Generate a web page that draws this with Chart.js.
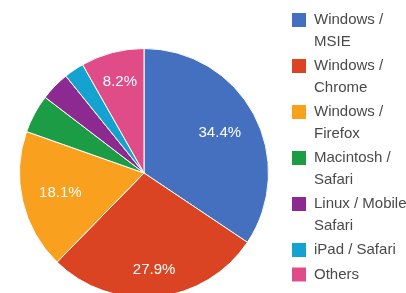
<!DOCTYPE html>
<html>
<head>
<meta charset="utf-8">
<script src="https://cdn.jsdelivr.net/npm/chart.js@4"></script>
<style>
  html, body { margin: 0; padding: 0; background: #fff; overflow: hidden; }
  #wrap { width: 406px; height: 322px; }
</style>
</head>
<body>
<div id="wrap"><canvas id="pie"></canvas></div>
<script>
// Data
const categories = [
  ['Windows /', 'MSIE'],
  ['Windows /', 'Chrome'],
  ['Windows /', 'Firefox'],
  ['Macintosh /', 'Safari'],
  ['Linux / Mobile', 'Safari'],
  ['iPad / Safari'],
  ['Others']
];
const shares = [34.4, 27.9, 18.1, 5.0, 3.8, 2.6, 8.2];
const shownLabels = ['34.4%', '27.9%', '18.1%', '', '', '', '8.2%'];
const colors = ['#4570c0', '#db4422', '#f9a11f', '#1c9c44', '#8c2a92', '#14a2d0', '#df4c88'];

// percentage labels inside slices
const sliceLabels = {
  id: 'sliceLabels',
  afterDatasetsDraw(chart, args, opts) {
    const ctx = chart.ctx;
    const arcs = chart.getDatasetMeta(0).data;
    ctx.save();
    ctx.fillStyle = '#fff';
    ctx.font = '15px "Liberation Sans", Arial, sans-serif';
    ctx.textAlign = 'center';
    ctx.textBaseline = 'middle';
    arcs.forEach((arc, i) => {
      if (!shownLabels[i]) return;
      const mid = (arc.startAngle + arc.endAngle) / 2;
      const r = arc.outerRadius * opts.radius[i];
      ctx.fillText(shownLabels[i], arc.x + Math.cos(mid) * r, arc.y + Math.sin(mid) * r);
    });
    ctx.restore();
  }
};

// legend on the right, two-line entries
const sideLegend = {
  id: 'sideLegend',
  afterDraw(chart, args, opts) {
    const ctx = chart.ctx;
    ctx.save();
    ctx.font = '15px "Liberation Sans", Arial, sans-serif';
    ctx.textBaseline = 'middle';
    let y = opts.top;
    chart.data.labels.forEach((lines, i) => {
      ctx.fillStyle = colors[i];
      ctx.fillRect(opts.x, y - 7, 14, 14);
      ctx.fillStyle = '#4a4a4a';
      lines.forEach((t, k) => ctx.fillText(t, opts.x + 22, y + k * opts.lineH));
      y += lines.length * opts.lineH + opts.gap;
    });
    ctx.restore();
  }
};

new Chart(document.getElementById('pie'), {
  type: 'pie',
  data: {
    labels: categories,
    datasets: [{
      data: shares,
      backgroundColor: colors,
      borderColor: '#fff',
      borderWidth: 1
    }]
  },
  options: {
    responsive: true,
    maintainAspectRatio: false,
    animation: false,
    layout: { padding: { left: 19, top: 48, right: 137, bottom: 24 } },
    plugins: {
      legend: { display: false },
      tooltip: { enabled: false },
      sliceLabels: { radius: [0.69, 0.78, 0.69, 0.7, 0.7, 0.7, 0.76] },
      sideLegend: { x: 292, top: 20, lineH: 21.5, gap: 3 }
    }
  },
  plugins: [sliceLabels, sideLegend]
});
</script>
</body>
</html>
